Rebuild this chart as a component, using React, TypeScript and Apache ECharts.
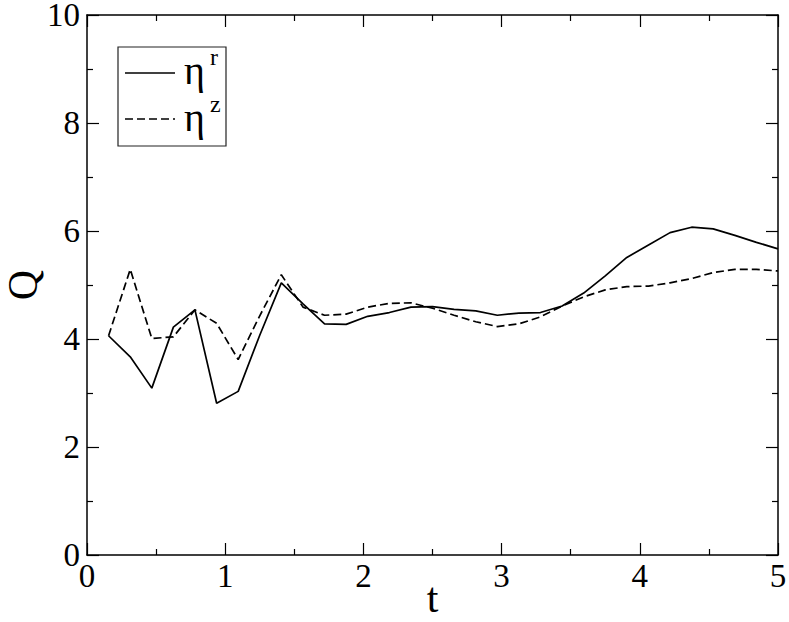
import React, { useEffect, useRef } from "react";
import * as echarts from "echarts";

const tValues = [
  0.156, 0.313, 0.469, 0.625, 0.781, 0.938, 1.094, 1.25, 1.406, 1.563, 1.719,
  1.875, 2.031, 2.188, 2.344, 2.5, 2.656, 2.813, 2.969, 3.125, 3.281, 3.438,
  3.594, 3.75, 3.906, 4.063, 4.219, 4.375, 4.531, 4.688, 4.844, 5.0,
];

const etaR = [
  4.06, 3.67, 3.09, 4.22, 4.54, 2.81, 3.03, 4.07, 5.04, 4.65, 4.28, 4.27, 4.42,
  4.49, 4.59, 4.6, 4.55, 4.52, 4.44, 4.48, 4.49, 4.61, 4.85, 5.17, 5.51, 5.74,
  5.97, 6.07, 6.04, 5.92, 5.79, 5.67,
];

const etaZ = [
  4.06, 5.29, 4.01, 4.04, 4.54, 4.29, 3.62, 4.43, 5.19, 4.59, 4.44, 4.46, 4.59,
  4.66, 4.67, 4.57, 4.44, 4.32, 4.23, 4.28, 4.41, 4.61, 4.78, 4.91, 4.97, 4.98,
  5.04, 5.12, 5.23, 5.29, 5.29, 5.26,
];

const xName = "t";
const yName = "Q";
const legendBase = "η";
const legendSups = ["r", "z"];

const FONT = "'Liberation Serif', 'Times New Roman', serif";

export default function App() {
  const ref = useRef<HTMLDivElement>(null);

  useEffect(() => {
    if (!ref.current) return;
    const chart = echarts.init(ref.current, undefined, { renderer: "svg" });

    const axisCommon = {
      axisLine: { show: true, onZero: false, lineStyle: { color: "#000", width: 1.5 } },
      axisTick: { show: true, inside: true, length: 12, lineStyle: { color: "#000", width: 1.2 } },
      minorTick: { show: true, splitNumber: 2, length: 6, lineStyle: { color: "#000", width: 1.2 } },
      splitLine: { show: false },
    };

    const labelStyle = { fontFamily: FONT, fontSize: 33, color: "#000", lineHeight: 24 };

    const toPairs = (ys: number[]) => tValues.map((t, i) => [t, ys[i]]);

    chart.setOption({
      animation: false,
      backgroundColor: "#fff",
      grid: {
        left: 87,
        right: 11,
        top: 15,
        bottom: 67,
        containLabel: false,
        outerBoundsMode: "none",
      },
      xAxis: [
        {
          type: "value",
          min: 0,
          max: 5,
          interval: 1,
          position: "bottom",
          name: xName,
          nameLocation: "middle",
          nameGap: 28,
          nameMoveOverlap: false,
          nameTextStyle: { fontFamily: FONT, fontSize: 42, color: "#000", lineHeight: 30 },
          axisLabel: { ...labelStyle, margin: 9 },
          ...axisCommon,
        },
        {
          type: "value",
          min: 0,
          max: 5,
          interval: 1,
          position: "top",
          axisLabel: { show: false },
          ...axisCommon,
        },
      ],
      yAxis: [
        {
          type: "value",
          min: 0,
          max: 10,
          interval: 2,
          position: "left",
          name: yName,
          nameLocation: "middle",
          nameRotate: 90,
          nameGap: 46,
          nameMoveOverlap: false,
          nameTextStyle: { fontFamily: FONT, fontSize: 42, color: "#000", lineHeight: 36 },
          axisLabel: { ...labelStyle, margin: 7 },
          ...axisCommon,
        },
        {
          type: "value",
          min: 0,
          max: 10,
          interval: 2,
          position: "right",
          axisLabel: { show: false },
          ...axisCommon,
        },
      ],
      series: [
        {
          name: legendBase + legendSups[0],
          type: "line",
          data: toPairs(etaR),
          showSymbol: false,
          symbol: "none",
          lineStyle: { color: "#000", width: 1.7, type: "solid" },
        },
        {
          name: legendBase + legendSups[1],
          type: "line",
          data: toPairs(etaZ),
          showSymbol: false,
          symbol: "none",
          lineStyle: { color: "#000", width: 1.7, type: [8, 4] },
        },
      ],
      graphic: [
        {
          type: "rect",
          shape: { x: 118, y: 47, width: 108, height: 99 },
          style: { fill: "#fff", stroke: "#222", lineWidth: 1.2 },
          z: 10,
        },
        {
          type: "line",
          shape: { x1: 125, y1: 73, x2: 175, y2: 73 },
          style: { stroke: "#000", lineWidth: 1.6 },
          z: 11,
        },
        {
          type: "line",
          shape: { x1: 125, y1: 119, x2: 175, y2: 119 },
          style: { stroke: "#000", lineWidth: 1.6, lineDash: [8, 4] },
          z: 11,
        },
        {
          type: "text",
          x: 184,
          y: 70,
          style: { text: legendBase, font: `40px ${FONT}`, fill: "#000", verticalAlign: "middle", align: "left" },
          z: 11,
        },
        {
          type: "text",
          x: 210,
          y: 57,
          style: { text: legendSups[0], font: `24px ${FONT}`, fill: "#000", verticalAlign: "middle", align: "left" },
          z: 11,
        },
        {
          type: "text",
          x: 184,
          y: 117,
          style: { text: legendBase, font: `40px ${FONT}`, fill: "#000", verticalAlign: "middle", align: "left" },
          z: 11,
        },
        {
          type: "text",
          x: 210,
          y: 104,
          style: { text: legendSups[1], font: `24px ${FONT}`, fill: "#000", verticalAlign: "middle", align: "left" },
          z: 11,
        },
      ],
    });

    return () => chart.dispose();
  }, []);

  return <div ref={ref} style={{ width: 789, height: 622, position: "absolute", left: 0, top: 0 }} />;
}
